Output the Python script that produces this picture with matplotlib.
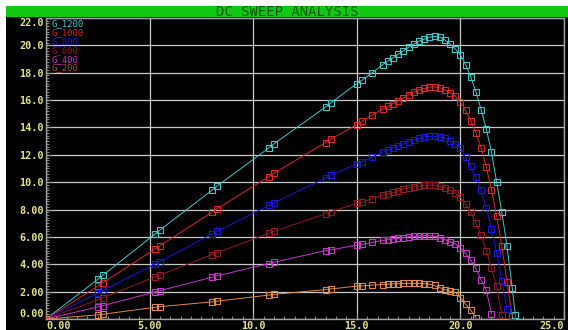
import matplotlib
matplotlib.use("Agg")
import matplotlib.pyplot as plt
from matplotlib.patches import Rectangle
from matplotlib.ticker import MultipleLocator

W, H = 568, 330

# ================= data ======================================
# sweep points shared by all traces (x axis)
sweep = [0.0, 2.5, 2.75, 5.25, 5.5, 8.0, 8.25, 10.75, 11.0, 13.5, 13.75,
         15.0, 15.25, 15.75, 16.25, 16.5, 16.75, 17.0, 17.25, 17.5, 17.75,
         18.0, 18.25, 18.5, 18.75, 19.0, 19.25, 19.5, 19.75, 20.0, 20.25,
         20.5, 20.75, 21.0, 21.25, 21.5, 21.75, 22.0, 22.25, 22.5, 22.65]

g_1200 = [0.0, 2.9, 3.2, 6.2, 6.5, 9.4, 9.7, 12.5, 12.8, 15.5, 15.8,
          17.2, 17.45, 18.0, 18.6, 18.85, 19.1, 19.35, 19.6, 19.85, 20.1,
          20.3, 20.45, 20.6, 20.65, 20.6, 20.4, 20.1, 19.75, 19.3, 18.6,
          17.7, 16.6, 15.3, 13.9, 12.2, 10.0, 7.8, 5.3, 2.3, 0.3]
g_1000 = [0.0, 2.4, 2.65, 5.1, 5.35, 7.8, 8.05, 10.4, 10.65, 12.9, 13.15,
          14.2, 14.45, 14.9, 15.35, 15.55, 15.75, 15.95, 16.15, 16.4, 16.6,
          16.75, 16.85, 16.95, 16.95, 16.9, 16.75, 16.55, 16.3, 15.85, 15.25,
          14.5, 13.6, 12.5, 11.1, 9.45, 7.5, 5.35, 2.7, 0.2]
g_800 = [0.0, 1.9, 2.1, 4.0, 4.2, 6.2, 6.4, 8.3, 8.5, 10.3, 10.5,
         11.35, 11.5, 11.85, 12.2, 12.35, 12.5, 12.65, 12.8, 12.95, 13.1,
         13.2, 13.3, 13.35, 13.35, 13.3, 13.2, 13.0, 12.8, 12.5, 11.85,
         11.15, 10.35, 9.4, 8.1, 6.6, 4.85, 2.8, 0.7]
g_600 = [0.0, 1.4, 1.55, 3.07, 3.2, 4.7, 4.85, 6.25, 6.4, 7.7, 7.85,
         8.45, 8.55, 8.8, 9.05, 9.15, 9.25, 9.35, 9.5, 9.6, 9.65,
         9.72, 9.78, 9.8, 9.78, 9.72, 9.6, 9.45, 9.2, 8.9, 8.4,
         7.8, 7.0, 6.15, 5.0, 3.7, 2.4, 0.3]
g_400 = [0.0, 0.88, 0.98, 1.97, 2.07, 3.05, 3.15, 4.05, 4.15, 5.0, 5.05,
         5.4, 5.45, 5.6, 5.75, 5.8, 5.85, 5.9, 5.95, 6.0, 6.05,
         6.08, 6.1, 6.1, 6.05, 5.95, 5.8, 5.65, 5.5, 5.2, 4.8,
         4.3, 3.7, 2.85, 2.1, 0.4]
g_200 = [0.0, 0.3, 0.35, 0.85, 0.9, 1.25, 1.3, 1.75, 1.8, 2.15, 2.2,
         2.4, 2.42, 2.48, 2.52, 2.55, 2.57, 2.58, 2.6, 2.6, 2.6,
         2.6, 2.58, 2.55, 2.45, 2.3, 2.15, 2.05, 1.95, 1.55, 1.1,
         0.65, 0.1]

names = ["G_1200", "G_1000", "G_800", "G_600", "G_400", "G_200"]
series = [g_1200, g_1000, g_800, g_600, g_400, g_200]
colors = ["#40c8c8", "#d82828", "#1818d8", "#901c1c", "#c838c8", "#e08848"]
label_colors = ["#40c8c8", "#d82020", "#1818c8", "#8a1a1a", "#c030c8", "#a05030"]

x_ticks = [0, 5, 10, 15, 20, 25]
x_labels = ["0.00", "5.00", "10.0", "15.0", "20.0", "25.0"]
y_ticks = [0, 2, 4, 6, 8, 10, 12, 14, 16, 18, 20, 22]
y_labels = ["0.00", "2.00", "4.00", "6.00", "8.00", "10.0", "12.0",
            "14.0", "16.0", "18.0", "20.0", "22.0"]

MONO = "DejaVu Sans Mono"
TICK_YELLOW = "#e4e480"
GRID = "#c8c8c8"
EDGE = "#a0a0a0"

# ================= figure frame ==================
fig = plt.figure(figsize=(W / 100, H / 100), dpi=100, facecolor="white")
fig.patches.append(Rectangle((6 / W, 0), 1 - 6 / W, 1 - 6 / H,
                             transform=fig.transFigure, facecolor="black",
                             edgecolor="none", zorder=-2))
fig.patches.append(Rectangle((6 / W, 1 - 17 / H), 1 - 6 / W, 11 / H,
                             transform=fig.transFigure, facecolor="#10c810",
                             edgecolor="none", zorder=-1))
fig.text(287 / W, 1 - 11.5 / H, "DC SWEEP ANALYSIS", family=MONO,
         fontsize=10, color="#0a560a", ha="center", va="center")

ax = fig.add_axes([46 / W, 11 / H, 518 / W, 301 / H])
ax.set_zorder(2)
ax.set_facecolor("black")

for name, ys, col in zip(names, series, colors):
    ax.plot(sweep[:len(ys)], ys, color=col, lw=0.7, marker="s", ms=3.8,
            mfc="none", mec=col, mew=0.8, label=name, zorder=3)

ax.set_xlim(0, 25)
ax.set_ylim(0, 22)
ax.set_xticks(x_ticks)
ax.set_xticklabels(x_labels)
ax.set_yticks(y_ticks)
ax.set_yticklabels(y_labels)
ax.xaxis.set_minor_locator(MultipleLocator(0.5))
ax.yaxis.set_minor_locator(MultipleLocator(0.2))
ax.grid(True, which="major", color=GRID, lw=0.9, zorder=1)
ax.tick_params(which="both", direction="in", color=EDGE, labelcolor=TICK_YELLOW,
               labelsize=7.3, top=False, right=False)
ax.tick_params(which="major", length=4, width=0.8, pad=1.5)
ax.tick_params(which="minor", length=2.5, width=0.6)
for lab in ax.get_xticklabels() + ax.get_yticklabels():
    lab.set_family(MONO)
    lab.set_weight("bold")
ax.get_xticklabels()[0].set_ha("left")
ax.get_xticklabels()[-1].set_ha("right")
ax.get_yticklabels()[0].set_va("bottom")
ax.get_yticklabels()[-1].set_va("top")
for sp in ax.spines.values():
    sp.set_color(EDGE)
    sp.set_linewidth(1)

# legend as plain coloured names, stacked top-left
for i, (name, col) in enumerate(zip(names, label_colors)):
    ax.text(5 / 518, 1 - (6 + 8.8 * i) / 301, name, transform=ax.transAxes,
            family=MONO, fontsize=6.5, color=col, ha="left", va="center",
            zorder=5)

fig.savefig("out.png", dpi=100, facecolor=fig.get_facecolor())
